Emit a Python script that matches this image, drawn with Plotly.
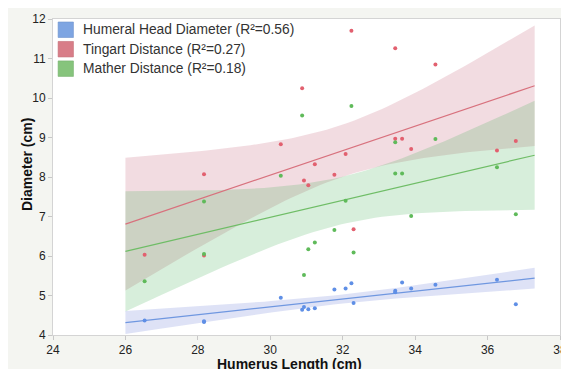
import numpy as np
import plotly.graph_objects as go

# Humerus length (cm) per subject
humerus_length = [26.53, 28.17, 28.17, 30.29, 30.88, 30.93, 31.05, 31.23, 31.77,
                  32.08, 32.24, 32.30, 33.45, 33.45, 33.64, 33.89, 34.56, 36.26, 36.78]
humeral_head = [4.37, 4.33, 4.35, 4.94, 4.64, 4.71, 4.65, 4.68, 5.15,
                5.18, 5.31, 4.81, 5.12, 5.08, 5.33, 5.18, 5.27, 5.40, 4.78]
tingart = [6.03, 8.07, 6.01, 8.83, 10.25, 7.91, 7.79, 8.32, 8.06,
           8.58, 11.70, 6.68, 11.26, 8.97, 8.97, 8.71, 10.85, 8.67, 8.91]
mather = [5.36, 7.38, 6.05, 8.03, 9.56, 5.52, 6.17, 6.34, 6.66,
          7.40, 9.80, 6.09, 8.88, 8.09, 8.09, 7.01, 8.96, 8.25, 7.06]

series_names = ["Humeral Head Diameter (R\u00b2=0.56)",
                "Tingart Distance (R\u00b2=0.27)",
                "Mather Distance (R\u00b2=0.18)"]
fit_range = [26.0, 37.3]
x_ticks = [24, 26, 28, 30, 32, 34, 36, 38]
y_ticks = [4, 5, 6, 7, 8, 9, 10, 11, 12]

point_colors = ["#5f8fe6", "#e2606f", "#5fba5a"]
line_colors = ["#6f97e0", "#d8717d", "#6fbd66"]
band_colors = ["rgba(90,110,210,0.20)", "rgba(185,70,95,0.19)", "rgba(55,170,75,0.20)"]
legend_colors = ["#7ea5e2", "#d87d88", "#86c47c"]
legend_borders = ["#6f93cc", "#c46b76", "#75b06b"]

x = np.array(humerus_length)
n = len(x)
t_crit = 2.11  # t(0.975, n-2)
xs = np.linspace(fit_range[0], fit_range[1], 60)

fig = go.Figure()
fits = []
for ys in [humeral_head, tingart, mather]:
    y = np.array(ys)
    b, a = np.polyfit(x, y, 1)
    resid = y - (a + b * x)
    s = np.sqrt(np.sum(resid ** 2) / (n - 2))
    sxx = np.sum((x - x.mean()) ** 2)
    fit = a + b * xs
    h = t_crit * s * np.sqrt(1 / n + (xs - x.mean()) ** 2 / sxx)
    fits.append((fit, h))

for i, (fit, h) in enumerate(fits):
    fig.add_trace(go.Scatter(
        x=np.concatenate([xs, xs[::-1]]), y=np.concatenate([fit + h, (fit - h)[::-1]]),
        fill="toself", fillcolor=band_colors[i], line=dict(width=0), mode="lines",
        hoverinfo="skip", showlegend=False))
for i, (fit, h) in enumerate(fits):
    fig.add_trace(go.Scatter(x=xs, y=fit, mode="lines",
                             line=dict(color=line_colors[i], width=1.2), showlegend=False))
for i, ys in enumerate([humeral_head, tingart, mather]):
    fig.add_trace(go.Scatter(x=humerus_length, y=ys, mode="markers", name=series_names[i],
                             marker=dict(color=point_colors[i], size=4), showlegend=False))

axis_common = dict(showgrid=False, zeroline=False, showline=True, linecolor="#d4d4d4",
                   linewidth=1, mirror=True, ticks="outside", ticklen=4, tickcolor="#c8c8c8",
                   tickfont=dict(size=12, color="#222"))
fig.update_xaxes(range=[24, 38], tickvals=x_ticks, ticklabeloverflow="allow", **axis_common)
fig.update_yaxes(range=[4, 12], tickvals=y_ticks, **axis_common)

# manual legend (squares + labels), paper coordinates
sq_top = [0.9905, 0.9289, 0.8673]
sq_h = 0.049
txt_y = [0.9653, 0.9036, 0.8420]
shapes = []
annotations = []
for i, name in enumerate(series_names):
    shapes.append(dict(type="rect", xref="paper", yref="paper", x0=0.0101, x1=0.0403,
                       y0=sq_top[i] - sq_h, y1=sq_top[i], fillcolor=legend_colors[i],
                       line=dict(color=legend_borders[i], width=0.6)))
    annotations.append(dict(text=name, xref="paper", yref="paper", x=0.0553, y=txt_y[i],
                            xanchor="left", yanchor="middle", showarrow=False,
                            font=dict(size=13.8, color="#333")))

annotations += [
    dict(text="<b>Humerus Length (cm)</b>", xref="paper", yref="paper", x=0.467, y=-0.091,
         xanchor="center", yanchor="middle", showarrow=False, font=dict(size=14, color="#111")),
    dict(text="<b>Diameter (cm)</b>", xref="paper", yref="paper", x=-0.05, y=0.54,
         xanchor="center", yanchor="middle", textangle=-90, showarrow=False,
         font=dict(size=14, color="#111")),
]

fig.update_layout(
    width=561, height=361,
    margin=dict(l=45, r=2, t=11, b=34),
    paper_bgcolor="#f4f5f1", plot_bgcolor="white",
    font=dict(family="Liberation Sans, Arial, sans-serif", color="#333"),
    showlegend=False,
    annotations=annotations,
    shapes=shapes,
)

fig.write_html("out.html")
